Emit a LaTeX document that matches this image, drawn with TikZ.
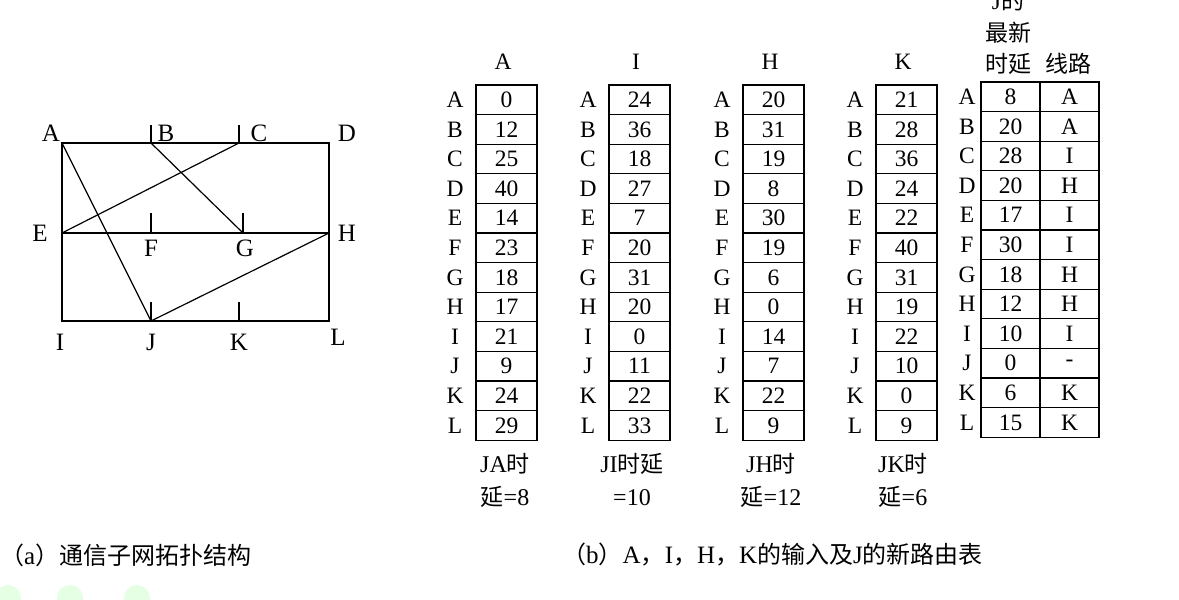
\documentclass[tikz,border=0pt]{standalone}
\usepackage{fontspec}
\setmainfont{Liberation Serif}
\newfontfamily\cjk{Noto Sans CJK SC}
\newcommand\zh[1]{{\cjk\fontsize{23}{33}\selectfont #1}}
\newcommand\zhc[1]{{\cjk\fontsize{24}{30}\selectfont #1}}
\begin{document}
\begin{tikzpicture}[x=1pt,y=-1pt,
  edge/.style={line width=1.2pt},
  vlabel/.style={font=\fontsize{25}{28}\selectfont, inner sep=0pt},
  cell/.style={draw, line width=1.1pt, minimum width=61pt, minimum height=29.6pt, inner sep=0pt, font=\fontsize{23.5}{26}\selectfont},
  jcell/.style={draw, line width=1.1pt, minimum width=59pt, minimum height=29.6pt, inner sep=0pt, font=\fontsize{23.5}{26}\selectfont},
  rlabel/.style={font=\fontsize{23.5}{26}\selectfont, inner sep=0pt},
  note/.style={font=\fontsize{24}{33}\selectfont, align=center, inner sep=0pt},
  caption/.style={font=\fontsize{25}{30}\selectfont, inner sep=0pt, anchor=west}]
\useasboundingbox (0,0) rectangle (1179,600);

% faint watermark blobs
\fill[green!10] (8,598) circle (13);
\fill[green!10] (70,598) circle (13);
\fill[green!10] (137,598) circle (13);

% ---------- graph ----------
\coordinate (A) at (62,143);
\coordinate (B) at (151,143);
\coordinate (C) at (239,143);
\coordinate (D) at (329,143);
\coordinate (E) at (62,233);
\coordinate (F) at (151,233);
\coordinate (G) at (243,233);
\coordinate (H) at (329,233);
\coordinate (I) at (62,321);
\coordinate (J) at (151,321);
\coordinate (K) at (239,321);
\coordinate (L) at (329,321);
\coordinate (Bt) at (151,125);
\coordinate (Ct) at (239,125);
\coordinate (Ft) at (151,213);
\coordinate (Gt) at (243,213);
\coordinate (Jt) at (151,302);
\coordinate (Kt) at (239,302);

\draw[edge] (A) -- (D) -- (L) -- (I) -- cycle;
\draw[edge] (E) -- (H);
\draw[edge] (A) -- (J);
\draw[edge] (B) -- (G);
\draw[edge] (C) -- (E);
\draw[edge] (H) -- (J);
\draw[edge] (B) -- (Bt);
\draw[edge] (C) -- (Ct);
\draw[edge] (F) -- (Ft);
\draw[edge] (G) -- (Gt);
\draw[edge] (J) -- (Jt);
\draw[edge] (K) -- (Kt);

\node[vlabel] (lA) at (51,133) {A};
\node[vlabel] (lB) at (166,133) {B};
\node[vlabel] (lC) at (259,133) {C};
\node[vlabel] (lD) at (347,133) {D};
\node[vlabel] (lE) at (40,233) {E};
\node[vlabel] (lH) at (347,233) {H};
\node[vlabel] (lF) at (151,248) {F};
\node[vlabel] (lG) at (245,248) {G};
\node[vlabel] (lI) at (60,342) {I};
\node[vlabel] (lJ) at (151,342) {J};
\node[vlabel] (lK) at (239,342) {K};
\node[vlabel] (lL) at (338,337) {L};

% ---------- neighbour tables ----------
\foreach \t/\x/\vals in {
  A/476/{0,12,25,40,14,23,18,17,21,9,24,29},
  I/609/{24,36,18,27,7,20,31,20,0,11,22,33},
  H/743/{20,31,19,8,30,19,6,0,14,7,22,9},
  K/876/{21,28,36,24,22,40,31,19,22,10,0,9}}{
  \node[rlabel] (h\t) at (\x+27,62) {\t};
  \foreach \v [count=\i] in \vals {
    \node[cell] (t\t-\i) at (\x+30.5,{85+\i*29.6-14.8}) {\v};
  }
  \foreach \r [count=\i] in {A,B,C,D,E,F,G,H,I,J,K,L} {
    \node[rlabel] (r\t-\i) at (\x-21,{85+\i*29.6-14.8}) {\r};
  }
}

% notes under tables
\node[note] (nA) at (505,480) {JA\zh{时}\\\zh{延}=8};
\node[note] (nI) at (632,480) {JI\zh{时延}\\=10};
\node[note] (nH) at (771,480) {JH\zh{时}\\\zh{延}=12};
\node[note] (nK) at (903,480) {JK\zh{时}\\\zh{延}=6};

% ---------- J's new routing table ----------
\node[font=\fontsize{23.5}{26}\selectfont, inner sep=0pt] (jh1) at (1008,1) {J\zh{的}};
\node[inner sep=0pt] (jh2) at (1008,33) {\zh{最新}};
\node[inner sep=0pt] (jh3) at (1008,64) {\zh{时延}};
\node[inner sep=0pt] (jh4) at (1068,64) {\zh{线路}};
\foreach \d/\l/\r [count=\i] in {8/A/A,20/A/B,28/I/C,20/H/D,17/I/E,30/I/F,18/H/G,12/H/H,10/I/I,0/-/J,6/K/K,15/K/L} {
  \node[jcell] (jd-\i) at (1010.5,{82+\i*29.6-14.8}) {\d};
  \node[jcell] (jl-\i) at (1069.5,{82+\i*29.6-14.8}) {\l};
  \node[rlabel] (jr-\i) at (967,{82+\i*29.6-14.8}) {\r};
}

% ---------- captions ----------
\node[caption] (capa) at (0,555) {\zhc{（}a\zhc{）通信子网拓扑结构}};
\node[caption] (capb) at (562,555) {\zhc{（}b\zhc{）}A\zhc{，}I\zhc{，}H\zhc{，}K\zhc{的输入及}J\zhc{的新路由表}};
\end{tikzpicture}
\end{document}
